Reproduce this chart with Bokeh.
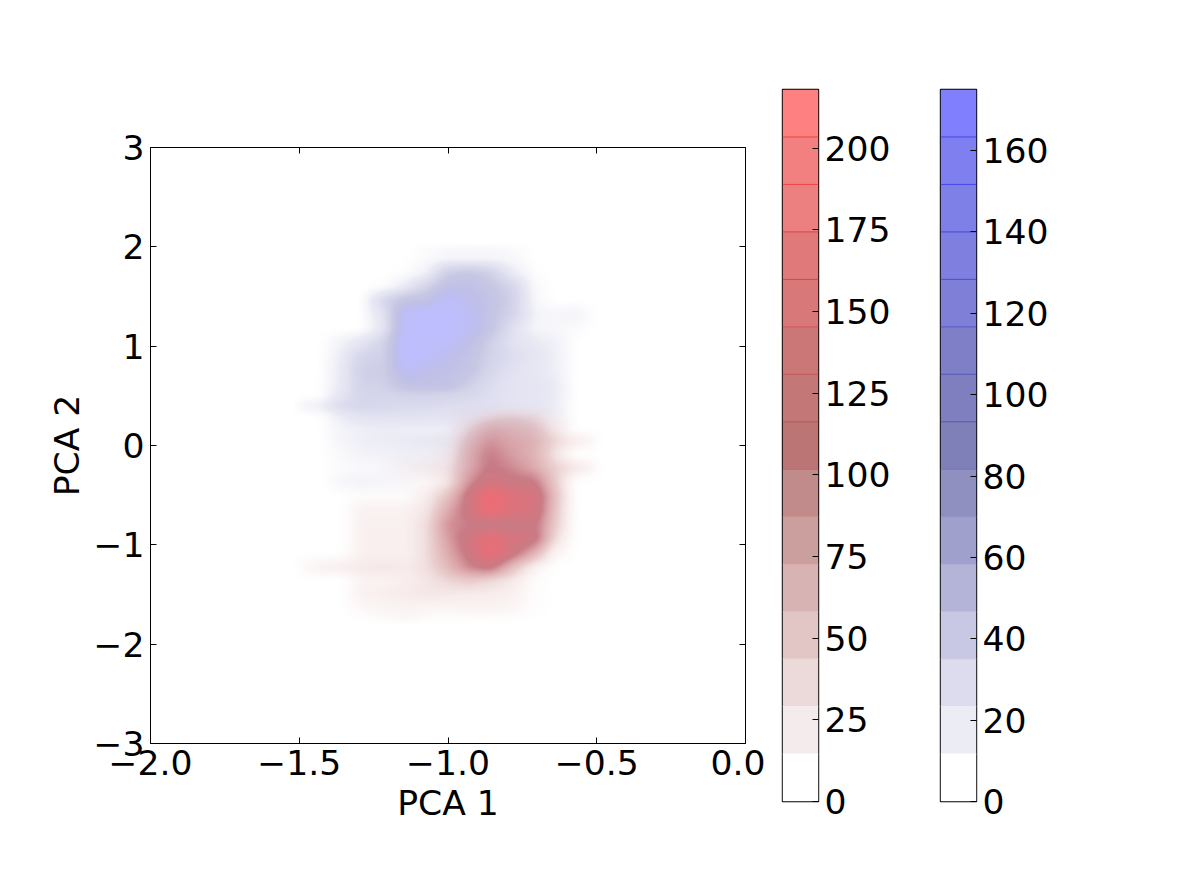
import numpy as np
from bokeh.embed import file_html
from bokeh.resources import INLINE
from bokeh.layouts import row
from bokeh.models import FixedTicker, LinearAxis, Range1d
from bokeh.plotting import figure

# ---------- data ----------
x_centers = [-1.50, -1.43, -1.36, -1.29, -1.21, -1.14, -1.07, -1.00, -0.93, -0.86, -0.79, -0.71, -0.64, -0.57, -0.50]
y_centers = [2.02, 1.88, 1.74, 1.60, 1.46, 1.32, 1.18, 1.04, 0.90, 0.75, 0.61, 0.51, 0.40, 0.29, 0.17, 0.05,
             -0.09, -0.22, -0.37, -0.51, -0.65, -0.80, -0.94, -1.08, -1.23, -1.36, -1.50, -1.64, -1.78]

blue_counts = [
    [0, 0, 0, 0, 0, 0, 3, 5, 6, 6, 4, 0, 0, 0, 0],
    [0, 0, 0, 0, 0, 0, 5, 10, 10, 10, 8, 0, 0, 0, 0],
    [0, 0, 0, 0, 0, 3, 14, 70, 80, 65, 22, 2, 0, 0, 0],
    [0, 0, 0, 0, 3, 22, 60, 105, 105, 85, 60, 5, 0, 0, 0],
    [0, 0, 0, 0, 55, 95, 100, 150, 125, 95, 65, 8, 0, 0, 0],
    [0, 0, 0, 0, 35, 155, 170, 175, 135, 90, 60, 12, 8, 12, 0],
    [0, 0, 0, 0, 30, 165, 170, 175, 135, 90, 38, 10, 8, 4, 0],
    [0, 0, 12, 28, 60, 175, 170, 150, 110, 65, 35, 22, 14, 0, 0],
    [0, 0, 18, 55, 65, 175, 150, 120, 95, 60, 42, 28, 16, 0, 0],
    [0, 0, 20, 65, 70, 140, 110, 100, 90, 52, 35, 25, 16, 0, 0],
    [0, 0, 22, 60, 65, 95, 100, 100, 65, 42, 32, 28, 20, 0, 0],
    [0, 0, 28, 55, 55, 60, 60, 55, 50, 38, 32, 28, 20, 0, 0],
    [10, 15, 45, 52, 48, 45, 45, 40, 38, 38, 30, 28, 18, 0, 0],
    [0, 0, 18, 32, 34, 34, 32, 32, 32, 28, 24, 20, 12, 0, 0],
    [0, 0, 12, 15, 18, 16, 16, 16, 25, 25, 20, 15, 5, 0, 0],
    [0, 0, 10, 16, 18, 20, 22, 22, 25, 25, 15, 10, 0, 0, 0],
    [0, 0, 6, 12, 14, 16, 14, 14, 18, 20, 12, 5, 0, 0, 0],
    [0, 0, 4, 6, 6, 10, 10, 8, 15, 20, 10, 0, 0, 0, 0],
    [0, 0, 8, 12, 10, 5, 0, 0, 0, 0, 0, 0, 0, 0, 0],
    [0] * 15, [0] * 15, [0] * 15, [0] * 15, [0] * 15, [0] * 15, [0] * 15, [0] * 15, [0] * 15, [0] * 15,
]

red_counts = [
    [0] * 15, [0] * 15, [0] * 15, [0] * 15, [0] * 15, [0] * 15, [0] * 15, [0] * 15, [0] * 15, [0] * 15,
    [0] * 15, [0] * 15, [0] * 15,
    [0, 0, 0, 0, 0, 0, 0, 0, 15, 35, 45, 35, 12, 0, 0],
    [0, 0, 0, 0, 0, 0, 0, 0, 38, 75, 70, 60, 28, 0, 0],
    [0, 0, 0, 0, 0, 0, 0, 8, 60, 100, 85, 75, 45, 25, 10],
    [0, 0, 0, 0, 0, 0, 5, 18, 75, 120, 95, 75, 35, 0, 0],
    [0, 0, 0, 0, 5, 10, 18, 30, 80, 125, 110, 85, 50, 30, 12],
    [0, 0, 0, 0, 0, 5, 12, 32, 105, 145, 130, 125, 55, 0, 0],
    [0, 0, 0, 6, 6, 6, 25, 62, 130, 217, 170, 155, 65, 0, 0],
    [0, 0, 0, 18, 18, 18, 32, 85, 135, 205, 170, 150, 60, 0, 0],
    [0, 0, 0, 20, 20, 20, 40, 105, 118, 120, 112, 130, 55, 0, 0],
    [0, 0, 0, 20, 20, 20, 40, 95, 140, 195, 160, 135, 40, 0, 0],
    [0, 0, 0, 20, 20, 20, 40, 85, 130, 200, 140, 80, 15, 0, 0],
    [8, 18, 22, 28, 30, 26, 38, 70, 110, 130, 70, 18, 0, 0, 0],
    [0, 0, 0, 16, 18, 22, 32, 45, 55, 45, 30, 5, 0, 0, 0],
    [0, 0, 0, 18, 22, 26, 30, 28, 24, 24, 20, 5, 0, 0, 0],
    [0, 0, 0, 10, 14, 16, 14, 14, 16, 16, 14, 3, 0, 0, 0],
    [0, 0, 0, 0, 5, 10, 3, 0, 0, 0, 0, 0, 0, 0, 0],
]

x_ticks = [-2.0, -1.5, -1.0, -0.5, 0.0]
y_ticks = [-3, -2, -1, 0, 1, 2, 3]
red_ticks = [0, 25, 50, 75, 100, 125, 150, 175, 200]
blue_ticks = [0, 20, 40, 60, 80, 100, 120, 140, 160]
red_max = 218
blue_max = 175

red_colors = ["#ffffff", "#f4ecec", "#ecdada", "#e2c6c6", "#d8b3b3", "#cc9f9f", "#c28b8b", "#bb7575",
              "#c47777", "#cc7777", "#d87878", "#e07a7a", "#ec7f7f", "#f38080", "#ff8080"]
red_edges = ["#ffffff", "#f4ecec", "#eed4d4", "#e2b8b8", "#d8a4a4", "#cc8f8f", "#b86464", "#b85050",
             "#c05050", "#d05050", "#d84040", "#e04040", "#ec4444", "#f04444"]
blue_colors = ["#ffffff", "#ececf4", "#dcdcee", "#c8c8e4", "#b4b4d8", "#a0a0cc", "#9090c0", "#8080b8",
               "#7f7fc0", "#7f7fc8", "#7f7fd8", "#7f7fe0", "#7f7fe8", "#7f7ff0", "#8080ff"]
blue_edges = ["#ffffff", "#ececf4", "#d0d0e8", "#bcbce0", "#a4a4d4", "#9090c8", "#7070b8", "#5050b0",
              "#5050b8", "#5050c8", "#4848d8", "#4444e0", "#4444e8", "#4444f0"]

# value -> colour tables of the density images (value, r, g, b, alpha)
blue_map = [(0, 225, 225, 240, 0.0), (20, 225, 225, 240, 0.7), (40, 222, 222, 240, 1.0),
            (80, 200, 200, 228, 1.0), (110, 192, 192, 234, 1.0), (145, 190, 190, 250, 1.0), (175, 190, 190, 255, 1.0)]
red_map = [(0, 230, 190, 190, 0.0), (25, 230, 190, 190, 0.3), (50, 205, 140, 140, 0.42),
           (90, 205, 130, 135, 0.72), (120, 196, 112, 122, 0.92), (217, 245, 105, 115, 1.0)]

# ---------- display resampling (imshow-like), colouring ----------
NX, NY = 595, 596


def resample(counts):
    g = np.array(counts, dtype=float)
    xs = np.linspace(-2, 0, NX)
    ys = np.linspace(-3, 3, NY)
    gx = np.array([np.interp(xs, x_centers, r, left=0, right=0) for r in g])
    yc = np.array(y_centers)[::-1]
    gx = gx[::-1]
    out = np.array([np.interp(ys, yc, gx[:, i], left=0, right=0) for i in range(NX)]).T
    kx = np.ones(15) / 15
    ky = np.ones(7) / 7
    out = np.apply_along_axis(lambda m: np.convolve(m, kx, mode="same"), 1, out)
    out = np.apply_along_axis(lambda m: np.convolve(m, ky, mode="same"), 0, out)
    return out


def colorize(v, table):
    t = np.array(table, dtype=float)
    img = np.zeros(v.shape + (4,), dtype=np.uint8)
    for c in range(3):
        img[..., c] = np.interp(v, t[:, 0], t[:, c + 1]).astype(np.uint8)
    img[..., 3] = (np.interp(v, t[:, 0], t[:, 4]) * 255).astype(np.uint8)
    return img.view(dtype=np.uint32).reshape(v.shape)


FONT = "DejaVu Sans"
FS = "34.6px"

main = figure(width=765, height=870, output_backend="svg", toolbar_location=None,
              x_range=Range1d(-2, 0), y_range=Range1d(-3, 3), frame_align=False,
              min_border_left=150, min_border_right=20, min_border_top=147, min_border_bottom=127,
              x_axis_label="PCA 1", y_axis_label="PCA 2", background_fill_color="white")
main.grid.visible = False
main.outline_line_color = "black"
main.image_rgba(image=[colorize(resample(blue_counts), blue_map)], x=-2, y=-3, dw=2, dh=6)
main.image_rgba(image=[colorize(resample(red_counts), red_map)], x=-2, y=-3, dw=2, dh=6)


def style_axis(ax, ticks, overrides=None, labels=True):
    ax.ticker = FixedTicker(ticks=ticks)
    ax.major_tick_in = 6
    ax.major_tick_out = 0
    ax.minor_tick_line_color = None
    ax.axis_line_color = None
    ax.major_tick_line_color = "black"
    if overrides:
        ax.major_label_overrides = overrides
    if labels:
        ax.major_label_text_font = FONT
        ax.major_label_text_font_size = FS
        ax.major_label_text_color = "black"
        ax.major_label_standoff = 6
    else:
        ax.major_label_text_font_size = "0px"
        ax.major_label_text_color = None


def lab(v, fmt):
    return (fmt % abs(v)) if v >= 0 else "\u2212" + (fmt % abs(v))


style_axis(main.xaxis[0], x_ticks, {v: lab(v, "%.1f") for v in x_ticks})
style_axis(main.yaxis[0], y_ticks, {v: lab(v, "%d") for v in y_ticks})
main.xaxis[0].major_label_text_baseline = "top"
for ax in (main.xaxis[0], main.yaxis[0]):
    ax.axis_label_text_font = FONT
    ax.axis_label_text_font_size = FS
    ax.axis_label_text_font_style = "normal"
    ax.axis_label_text_color = "black"
main.xaxis[0].axis_label_standoff = 5
main.yaxis[0].axis_label_standoff = 4

top_ax = LinearAxis()
right_ax = LinearAxis()
style_axis(top_ax, x_ticks, labels=False)
style_axis(right_ax, y_ticks, labels=False)
main.add_layout(top_ax, "above")
main.add_layout(right_ax, "right")


def colorbar(vmax, ticks, colors, edges, width, left):
    n = len(colors)
    lv = [vmax * i / n for i in range(n + 1)]
    c = figure(width=width, height=870, output_backend="svg", toolbar_location=None,
               x_range=Range1d(0, 1), y_range=Range1d(0, vmax), y_axis_location="right", frame_align=False,
               min_border_left=left, min_border_right=width - left - 36, min_border_top=89, min_border_bottom=69,
               background_fill_color="white")
    c.grid.visible = False
    c.xaxis.visible = False
    c.outline_line_color = "black"
    c.outline_line_width = 1.4
    c.quad(left=0, right=1, bottom=lv[:-1], top=lv[1:], fill_color=colors, line_color=None)
    c.segment(x0=0, x1=1, y0=lv[1:-1], y1=lv[1:-1], line_color=edges, line_width=1)
    style_axis(c.yaxis[0], ticks)
    return c


bar_red = colorbar(red_max, red_ticks, red_colors, red_edges, 158, 17)
bar_blue = colorbar(blue_max, blue_ticks, blue_colors, blue_edges, 240, 17)

page = row(main, bar_red, bar_blue)
open("out.html", "w").write(file_html(page, INLINE))
